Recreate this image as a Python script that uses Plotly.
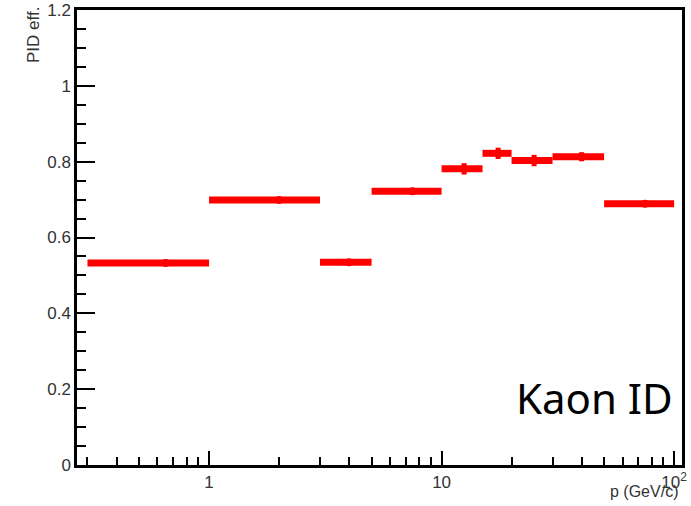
import plotly.graph_objects as go

# bin edges (GeV/c) and efficiencies
bin_low = [0.3, 1, 3, 5, 10, 15, 20, 30, 50]
bin_high = [1, 3, 5, 10, 15, 20, 30, 50, 100]
eff = [0.533, 0.699, 0.535, 0.722, 0.781, 0.822, 0.803, 0.813, 0.689]
eff_err = [0.003, 0.003, 0.003, 0.003, 0.015, 0.015, 0.015, 0.012, 0.004]

x_major = [1, 10, 100]
x_major_text = ["1", "10", "10<sup>2</sup>"]
x_minor = [0.3, 0.4, 0.5, 0.6, 0.7, 0.8, 0.9,
           2, 3, 4, 5, 6, 7, 8, 9,
           20, 30, 40, 50, 60, 70, 80, 90]

centers = [(a + b) / 2 for a, b in zip(bin_low, bin_high)]
ex_plus = [b - c for b, c in zip(bin_high, centers)]
ex_minus = [c - a for a, c in zip(bin_low, centers)]

fig = go.Figure()
fig.add_trace(go.Scatter(
    x=centers, y=eff, mode="markers",
    marker=dict(color="#ff0000", size=8, symbol="circle"),
    error_x=dict(type="data", symmetric=False, array=ex_plus, arrayminus=ex_minus,
                 color="#ff0000", thickness=7, width=0),
    error_y=dict(type="data", array=eff_err, color="#ff0000", thickness=5, width=0),
    showlegend=False,
))

font = "Liberation Sans, Arial, sans-serif"
fig.update_layout(
    width=691, height=506,
    margin=dict(l=77, r=9, t=10, b=41, autoexpand=False),
    paper_bgcolor="white", plot_bgcolor="white",
    font=dict(family=font, size=17, color="#222"),
    xaxis=dict(
        type="log", range=[-0.568, 2.034], automargin=False,
        showline=True, linewidth=2.5, linecolor="black", mirror=True,
        showgrid=False, zeroline=False,
        ticks="inside", ticklen=14, tickwidth=2, tickcolor="black",
        tickmode="array", tickvals=x_major, ticktext=x_major_text,
        tickfont=dict(size=17, family=font, color="#333"),
        minor=dict(ticks="inside", ticklen=8, tickwidth=2, tickcolor="black",
                   tickmode="array", tickvals=x_minor, showgrid=False),
    ),
    yaxis=dict(
        range=[0, 1.2], automargin=False,
        showline=True, linewidth=2.5, linecolor="black", mirror=True,
        showgrid=False, zeroline=False,
        ticks="inside", ticklen=18, tickwidth=2, tickcolor="black",
        tickmode="linear", tick0=0, dtick=0.2,
        tickformat=".1~f",
        tickfont=dict(size=17, family=font, color="#333"),
        minor=dict(ticks="inside", ticklen=9, tickwidth=2, tickcolor="black",
                   dtick=0.05, tick0=0, showgrid=False),
    ),
    annotations=[
        dict(text="PID eff.", xref="paper", yref="paper", x=-0.072, y=1.012,
             xanchor="center", yanchor="top", textangle=-90, showarrow=False,
             font=dict(size=17, family=font, color="#333")),
        dict(text="p (GeV/c)", xref="paper", yref="paper", x=0.997, y=-0.036,
             xanchor="right", yanchor="top", showarrow=False,
             font=dict(size=16, family=font, color="#333")),
        dict(text="Kaon ID", xref="paper", yref="paper", x=0.989, y=0.081,
             xanchor="right", yanchor="bottom", showarrow=False,
             font=dict(size=42, family="Noto Sans, Open Sans, sans-serif", color="black")),
    ],
)

fig.write_html("out.html")
